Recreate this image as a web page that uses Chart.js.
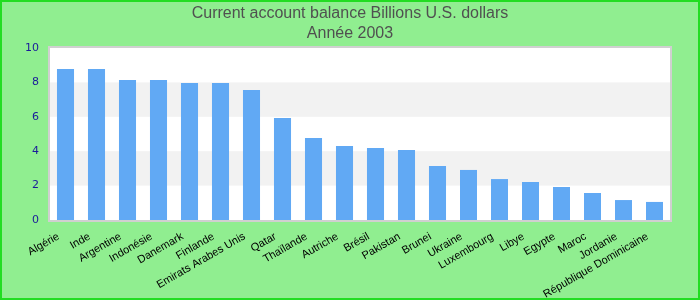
<!DOCTYPE html>
<html>
<head>
<meta charset="utf-8">
<script src="https://cdn.jsdelivr.net/npm/chart.js@4/dist/chart.umd.min.js"></script>
<style>
html,body{margin:0;padding:0;background:#90ee90;}
#wrap{width:700px;height:300px;position:relative;}
</style>
</head>
<body>
<div id="wrap"><canvas id="c" width="700" height="300"></canvas></div>
<script>
const categories = ["Algérie","Inde","Argentine","Indonésie","Danemark","Finlande","Emirats Arabes Unis","Qatar","Thaïlande","Autriche","Brésil","Pakistan","Brunei","Ukraine","Luxembourg","Libye","Egypte","Maroc","Jordanie","République Dominicaine"];
const balance = [8.78,8.78,8.14,8.14,7.97,7.97,7.56,5.93,4.77,4.30,4.19,4.07,3.14,2.91,2.38,2.21,1.92,1.57,1.16,1.05];
const titleLines = ["Current account balance Billions U.S. dollars","Année 2003"];
const yTicks = [0,2,4,6,8,10];

function plotBox(chart){
  const x = chart.scales.x, y = chart.scales.y;
  return {
    left: Math.round(x.getPixelForValue(-0.5)),
    right: Math.round(x.getPixelForValue(categories.length-0.5)),
    top: y.getPixelForValue(yTicks[yTicks.length-1]),
    bottom: y.getPixelForValue(yTicks[0])
  };
}

const bgPlugin = {
  id:'bg',
  beforeDraw(chart){
    const ctx = chart.ctx, a = plotBox(chart), y = chart.scales.y;
    ctx.save();
    ctx.fillStyle = '#90ee90';
    ctx.fillRect(0,0,chart.width,chart.height);
    ctx.fillStyle = '#ffffff';
    ctx.fillRect(a.left,a.top,a.right-a.left,a.bottom-a.top);
    ctx.fillStyle = '#f2f2f2';
    for (let i=0;i<yTicks.length-1;i++){
      if (i%2===1){
        const t = y.getPixelForValue(yTicks[i+1]);
        const b = y.getPixelForValue(yTicks[i]);
        ctx.fillRect(a.left,t,a.right-a.left,b-t);
      }
    }
    ctx.restore();
  },
  afterDraw(chart){
    const ctx = chart.ctx, a = plotBox(chart);
    ctx.save();
    ctx.strokeStyle = '#d0d0d0';
    ctx.lineWidth = 2;
    ctx.strokeRect(a.left-1,a.top-1,a.right-a.left+2,a.bottom-a.top+2);
    ctx.strokeStyle = '#22dd22';
    ctx.lineWidth = 2;
    ctx.strokeRect(1,1,chart.width-2,chart.height-2);
    ctx.restore();
  }
};

new Chart(document.getElementById('c'),{
  type:'bar',
  data:{labels:categories,datasets:[{data:balance,backgroundColor:'#61a9f4',borderWidth:0,barPercentage:0.55,categoryPercentage:1}]},
  options:{
    responsive:false,animation:false,
    layout:{padding:0},
    plugins:{
      legend:{display:false},tooltip:{enabled:false},
      title:{display:true,text:titleLines,color:'#505050',font:{family:'Liberation Sans, Arial, sans-serif',size:16,weight:'normal',lineHeight:1.25},padding:{top:4,bottom:4}}
    },
    scales:{
      x:{
        grid:{display:false,drawTicks:false},border:{display:false},
        ticks:{color:'#000000',font:{family:'Liberation Sans, Arial, sans-serif',size:11},minRotation:30,maxRotation:30,autoSkip:false,padding:10,labelOffset:-7},
        afterFit(s){s.height=80;}
      },
      y:{
        min:0,max:10,
        grid:{display:false,drawTicks:false},border:{display:false},
        ticks:{stepSize:2,color:'#1a1a9a',font:{family:'DejaVu Sans, sans-serif',size:11},padding:11},
        afterFit(s){s.width=50;}
      },
      yr:{
        position:'right',display:true,min:0,max:10,
        grid:{display:false,drawTicks:false},border:{display:false},
        ticks:{display:false},
        afterFit(s){s.width=30;}
      }
    }
  },
  plugins:[bgPlugin]
});
</script>
</body>
</html>
